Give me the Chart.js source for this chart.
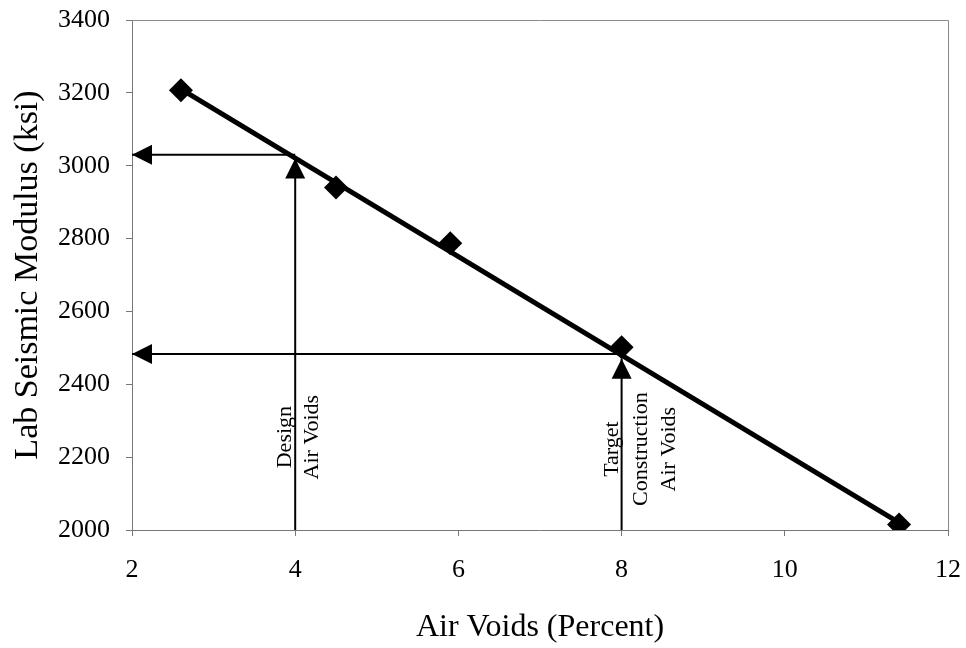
<!DOCTYPE html>
<html>
<head>
<meta charset="utf-8">
<script src="https://cdn.jsdelivr.net/npm/chart.js@4/dist/chart.umd.min.js"></script>
<style>
  html, body { margin: 0; padding: 0; background: #ffffff; }
  #wrap { width: 966px; height: 648px; }
</style>
</head>
<body>
<div id="wrap"><canvas id="c" width="966" height="648"></canvas></div>
<script>
// ---- data ----
const airVoids = [2.6, 4.5, 5.9, 8.0, 11.4];
const seismicModulus = [3207, 2940, 2787, 2502, 2015];

const trendVoids = [2.6, 11.4];
const trendModulus = [3210, 2020];

const designVoids = 4;
const designModulus = 3030;
const designArrowTip = 3020;
const targetVoids = 8;
const targetModulus = 2483;
const targetArrowTip = 2470;

const xTicks = [2, 4, 6, 8, 10, 12];
const yTicks = [2000, 2200, 2400, 2600, 2800, 3000, 3200, 3400];

const designLabel = ["Design", "Air Voids"];
const targetLabel = ["Target", "Construction", "Air Voids"];
const designLabelModulus = 2255;
const targetLabelModulus = 2222;

const xTitle = "Air Voids (Percent)";
const yTitle = "Lab Seismic Modulus (ksi)";

// ---- build ----
const pts = airVoids.map((x, i) => ({ x: x, y: seismicModulus[i] }));
const trend = trendVoids.map((x, i) => ({ x: x, y: trendModulus[i] }));
const xMin = xTicks[0], xMax = xTicks[xTicks.length - 1];
const yMin = yTicks[0], yMax = yTicks[yTicks.length - 1];

function arrowSet(from, to) {
  return {
    type: 'line',
    data: [from, to],
    borderColor: '#000',
    borderWidth: 2,
    pointRadius: 0,
    fill: false,
    order: 3,
    isArrow: true
  };
}

const arrowSets = [
  arrowSet({ x: designVoids, y: designModulus }, { x: xMin, y: designModulus }),
  arrowSet({ x: designVoids, y: yMin }, { x: designVoids, y: designArrowTip }),
  arrowSet({ x: targetVoids, y: targetModulus }, { x: xMin, y: targetModulus }),
  arrowSet({ x: targetVoids, y: yMin }, { x: targetVoids, y: targetArrowTip })
];

const SERIF = '"Liberation Serif", "Times New Roman", serif';

const overlay = {
  id: 'overlay',
  beforeDatasetsDraw(chart) {
    const { ctx, chartArea: a } = chart;
    ctx.save();
    ctx.strokeStyle = '#8a8a8a';
    ctx.lineWidth = 1;
    ctx.beginPath();
    ctx.moveTo(a.left, a.top + 0.5);
    ctx.lineTo(a.right + 0.5, a.top + 0.5);
    ctx.lineTo(a.right + 0.5, a.bottom);
    ctx.stroke();
    ctx.restore();
  },
  afterDatasetsDraw(chart) {
    const { ctx } = chart;
    const xs = chart.scales.x, ys = chart.scales.y;
    chart.data.datasets.forEach(ds => {
      if (!ds.isArrow) return;
      const p0 = ds.data[0], p1 = ds.data[1];
      const x0 = xs.getPixelForValue(p0.x), y0 = ys.getPixelForValue(p0.y);
      const x1 = xs.getPixelForValue(p1.x), y1 = ys.getPixelForValue(p1.y);
      const ang = Math.atan2(y1 - y0, x1 - x0);
      const len = 20, half = 10;
      ctx.save();
      ctx.translate(x1, y1);
      ctx.rotate(ang);
      ctx.fillStyle = '#000';
      ctx.beginPath();
      ctx.moveTo(0, 0);
      ctx.lineTo(-len, -half);
      ctx.lineTo(-len, half);
      ctx.closePath();
      ctx.fill();
      ctx.restore();
    });
    function drawLabel(lines, xv, yv, firstOffset, spacing) {
      const px = xs.getPixelForValue(xv), py = ys.getPixelForValue(yv);
      ctx.save();
      ctx.fillStyle = '#000';
      ctx.font = '22px ' + SERIF;
      ctx.textAlign = 'center';
      ctx.textBaseline = 'middle';
      lines.forEach((t, i) => {
        ctx.save();
        ctx.translate(px + firstOffset + i * spacing, py);
        ctx.rotate(-Math.PI / 2);
        ctx.fillText(t, 0, 0);
        ctx.restore();
      });
      ctx.restore();
    }
    drawLabel(designLabel, designVoids, designLabelModulus, -10, 27);
    drawLabel(targetLabel, targetVoids, targetLabelModulus, -9, 28.5);
  }
};

new Chart(document.getElementById('c'), {
  type: 'scatter',
  data: {
    datasets: [
      {
        data: pts,
        pointStyle: 'rectRot',
        pointRadius: 12,
        pointHoverRadius: 12,
        backgroundColor: '#000',
        borderColor: '#000',
        borderWidth: 0,
        order: 1
      },
      {
        type: 'line',
        data: trend,
        borderColor: '#000',
        borderWidth: 5,
        pointRadius: 0,
        fill: false,
        order: 2
      },
      ...arrowSets
    ]
  },
  options: {
    responsive: false,
    animation: false,
    events: [],
    layout: { padding: { left: 0, right: 18, top: 20, bottom: 0 } },
    plugins: {
      legend: { display: false },
      tooltip: { enabled: false }
    },
    scales: {
      x: {
        type: 'linear',
        min: xMin, max: xMax,
        afterFit(s) { s.height = 118; s.paddingLeft = 0; s.paddingRight = 0; },
        afterBuildTicks(s) { s.ticks = xTicks.map(v => ({ value: v })); },
        grid: { drawOnChartArea: false, drawTicks: true, tickLength: 6, color: '#777' },
        border: { display: true, color: '#777', width: 1 },
        ticks: { color: '#000', padding: 19, font: { family: SERIF, size: 26 }, maxRotation: 0, callback: v => String(v) },
        title: { display: true, text: xTitle, color: '#000', font: { family: SERIF, size: 32, lineHeight: 1 }, padding: { top: 0, bottom: 4 } }
      },
      y: {
        type: 'linear',
        min: yMin, max: yMax,
        afterFit(s) { s.width = 132; s.paddingTop = 0; s.paddingBottom = 0; },
        afterBuildTicks(s) { s.ticks = yTicks.map(v => ({ value: v })); },
        grid: { drawOnChartArea: false, drawTicks: true, tickLength: 6, color: '#777' },
        border: { display: true, color: '#777', width: 1 },
        ticks: { color: '#000', padding: 16, font: { family: SERIF, size: 26 }, callback: v => String(v) },
        title: { display: true, text: yTitle, color: '#000', font: { family: SERIF, size: 34, lineHeight: 1 }, padding: { top: 11, bottom: 0 } }
      }
    }
  },
  plugins: [overlay]
});
</script>
</body>
</html>
